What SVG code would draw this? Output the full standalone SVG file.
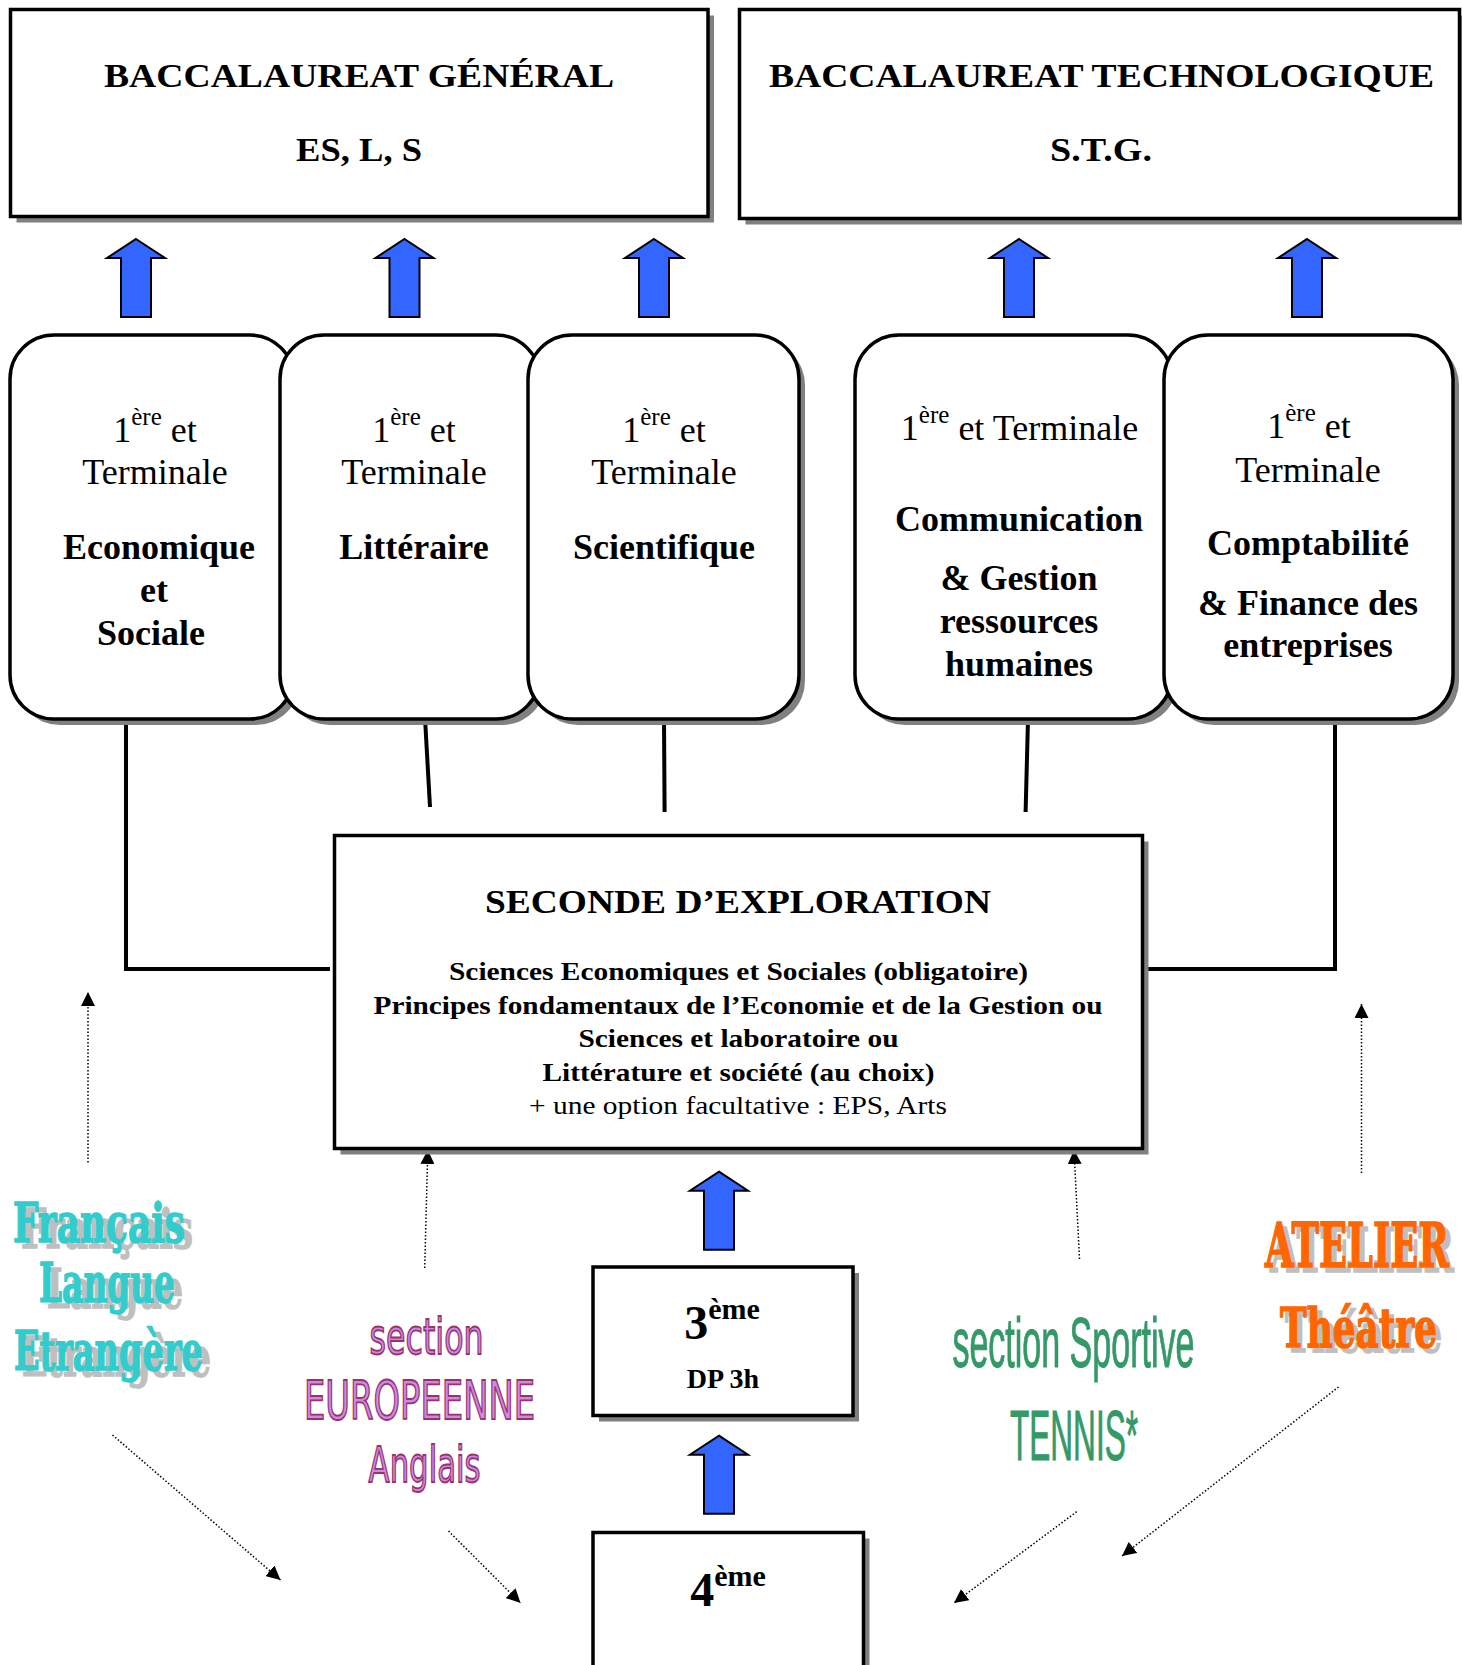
<svg xmlns="http://www.w3.org/2000/svg" width="1462" height="1665" viewBox="0 0 1462 1665">
<style>
.bg{fill:#fff}
.box{fill:#fff;stroke:#000;stroke-width:3.5}
.shd{fill:#808080}
.t{font-family:"Liberation Serif","Times New Roman",serif;fill:#000}
.b{font-weight:bold}
.arrow{fill:#3366FF;stroke:#000;stroke-width:2;stroke-linejoin:miter}
.conn{stroke:#000;stroke-width:4;fill:none}
.dot{stroke:#000;stroke-width:1.5;stroke-dasharray:1.5 2;fill:none;marker-end:url(#tri)}
.teal{font-family:"DejaVu Serif",serif;font-weight:bold;fill:#33CCCC;stroke:#33CCCC;stroke-width:1.6}
.orange{font-family:"DejaVu Serif",serif;font-weight:bold;fill:#FF6600;stroke:#FF6600;stroke-width:1.6}
.wshd{fill:#BFBFBF;stroke:#BFBFBF}
.euro{font-family:"DejaVu Sans",sans-serif;fill:#CC88EE;stroke:#993366;stroke-width:1.8}
.tennis{font-family:"Liberation Sans Narrow","Liberation Sans",sans-serif;fill:#339966;stroke:#339966;stroke-width:1}
</style>
<defs>
<path id="up" d="M0,0 L29,19 L15,19 L15,78 L-15,78 L-15,19 L-29,19 Z"/>
<marker id="tri" markerUnits="userSpaceOnUse" viewBox="0 0 14 14" markerWidth="14" markerHeight="14" refX="14" refY="7" orient="auto">
<path d="M0,0 L14,7 L0,14 Z" fill="#000"/>
</marker>
</defs>
<rect class="bg" x="0" y="0" width="1462" height="1665"/>

<g id="bac-general">
<rect class="shd" x="16.5" y="15.5" width="697.5" height="207"/>
<rect class="box" x="10.5" y="9.5" width="697.5" height="207"/>
<text class="t b" x="104" y="87" font-size="34" textLength="510" lengthAdjust="spacingAndGlyphs">BACCALAUREAT GÉNÉRAL</text>
<text class="t b" x="296" y="161" font-size="34" textLength="126" lengthAdjust="spacingAndGlyphs">ES, L, S</text>
</g>

<g id="bac-techno">
<rect class="shd" x="745.5" y="15.5" width="720" height="209"/>
<rect class="box" x="739.5" y="9.5" width="720" height="209"/>
<text class="t b" x="769" y="87" font-size="34" textLength="665" lengthAdjust="spacingAndGlyphs">BACCALAUREAT TECHNOLOGIQUE</text>
<text class="t b" x="1050" y="161" font-size="34" textLength="102" lengthAdjust="spacingAndGlyphs">S.T.G.</text>
</g>

<g id="arrows-top" class="arrow">
<use href="#up" x="136" y="239"/>
<use href="#up" x="404.5" y="239"/>
<use href="#up" x="654" y="239"/>
<use href="#up" x="1019" y="239"/>
<use href="#up" x="1307" y="239"/>
</g>

<g id="connectors">
<polyline class="conn" points="126,719 126,969 330,969"/>
<line class="conn" x1="425" y1="718" x2="430" y2="807"/>
<line class="conn" x1="664" y1="719" x2="664.6" y2="812"/>
<line class="conn" x1="1028" y1="719" x2="1025.6" y2="812"/>
<polyline class="conn" points="1146,969 1335,969 1335,719"/>
<line class="dot" x1="88" y1="1162.6" x2="88" y2="992"/>
<line class="dot" x1="424.7" y1="1268" x2="427.8" y2="1150"/>
<line class="dot" x1="1079.5" y1="1259" x2="1074" y2="1150"/>
<line class="dot" x1="1361.5" y1="1173" x2="1361.5" y2="1004"/>
<line class="dot" x1="112.5" y1="1435" x2="280.5" y2="1580"/>
<line class="dot" x1="448.5" y1="1531" x2="520.5" y2="1603"/>
<line class="dot" x1="1076.7" y1="1511.7" x2="954" y2="1603"/>
<line class="dot" x1="1338.5" y1="1387" x2="1122" y2="1556"/>
</g>

<g id="es">
<rect class="shd" x="16" y="341" width="284" height="384" rx="44"/>
<rect class="box" x="10" y="335" width="284" height="384" rx="44"/>
<text class="t" x="155" y="441.5" font-size="36" text-anchor="middle">1<tspan font-size="25" dy="-17">ère</tspan><tspan dy="17"> et</tspan></text>
<text class="t" x="155" y="483.5" font-size="36" text-anchor="middle">Terminale</text>
<text class="t b" x="159" y="558.5" font-size="36" text-anchor="middle">Economique</text>
<text class="t b" x="154" y="601.5" font-size="36" text-anchor="middle">et</text>
<text class="t b" x="151" y="645" font-size="36" text-anchor="middle">Sociale</text>
</g>

<g id="l">
<rect class="shd" x="286" y="341" width="260" height="384" rx="44"/>
<rect class="box" x="280" y="335" width="260" height="384" rx="44"/>
<text class="t" x="414" y="441.5" font-size="36" text-anchor="middle">1<tspan font-size="25" dy="-17">ère</tspan><tspan dy="17"> et</tspan></text>
<text class="t" x="414" y="483.5" font-size="36" text-anchor="middle">Terminale</text>
<text class="t b" x="414" y="559" font-size="36" text-anchor="middle">Littéraire</text>
</g>

<g id="s">
<rect class="shd" x="534" y="341" width="271" height="384" rx="44"/>
<rect class="box" x="528" y="335" width="271" height="384" rx="44"/>
<text class="t" x="664" y="441.5" font-size="36" text-anchor="middle">1<tspan font-size="25" dy="-17">ère</tspan><tspan dy="17"> et</tspan></text>
<text class="t" x="664" y="483.5" font-size="36" text-anchor="middle">Terminale</text>
<text class="t b" x="664" y="559" font-size="36" text-anchor="middle">Scientifique</text>
</g>

<g id="cgrh">
<rect class="shd" x="861" y="341" width="317" height="384" rx="44"/>
<rect class="box" x="855" y="335" width="317" height="384" rx="44"/>
<text class="t" x="1019.5" y="440" font-size="36" text-anchor="middle">1<tspan font-size="25" dy="-17">ère</tspan><tspan dy="17"> et Terminale</tspan></text>
<text class="t b" x="1019" y="531" font-size="36" text-anchor="middle">Communication</text>
<text class="t b" x="1019" y="590" font-size="36" text-anchor="middle">&amp; Gestion</text>
<text class="t b" x="1019" y="633" font-size="36" text-anchor="middle">ressources</text>
<text class="t b" x="1019" y="676" font-size="36" text-anchor="middle">humaines</text>
</g>

<g id="cfe">
<rect class="shd" x="1170" y="341" width="289" height="384" rx="44"/>
<rect class="box" x="1164" y="335" width="289" height="384" rx="44"/>
<text class="t" x="1309" y="438" font-size="36" text-anchor="middle">1<tspan font-size="25" dy="-17">ère</tspan><tspan dy="17"> et</tspan></text>
<text class="t" x="1308" y="482" font-size="36" text-anchor="middle">Terminale</text>
<text class="t b" x="1308" y="555" font-size="36" text-anchor="middle">Comptabilité</text>
<text class="t b" x="1308" y="615" font-size="36" text-anchor="middle">&amp; Finance des</text>
<text class="t b" x="1308" y="657" font-size="36" text-anchor="middle">entreprises</text>
</g>

<g id="seconde">
<rect class="shd" x="340.5" y="841.5" width="808" height="313"/>
<rect class="box" x="334.5" y="835.5" width="808" height="313"/>
<text class="t b" x="485" y="913" font-size="34" textLength="506" lengthAdjust="spacingAndGlyphs">SECONDE D’EXPLORATION</text>
<text class="t b" x="449" y="980" font-size="26" textLength="579" lengthAdjust="spacingAndGlyphs">Sciences Economiques et Sociales (obligatoire)</text>
<text class="t b" x="373.5" y="1013.5" font-size="26" textLength="729" lengthAdjust="spacingAndGlyphs">Principes fondamentaux de l’Economie et de la Gestion ou</text>
<text class="t b" x="578.5" y="1047" font-size="26" textLength="320" lengthAdjust="spacingAndGlyphs">Sciences et laboratoire ou</text>
<text class="t b" x="542.5" y="1081" font-size="26" textLength="392" lengthAdjust="spacingAndGlyphs">Littérature et société (au choix)</text>
<text class="t" x="529" y="1113.5" font-size="26" textLength="418" lengthAdjust="spacingAndGlyphs">+ une option facultative : EPS, Arts</text>
</g>

<g id="arrows-bottom" class="arrow">
<use href="#up" x="719" y="1171.7"/>
<use href="#up" x="719" y="1435.7"/>
</g>

<g id="troisieme">
<rect class="shd" x="599" y="1273" width="260" height="148.5"/>
<rect class="box" x="593" y="1267" width="260" height="148.5"/>
<text class="t b" x="722" y="1339" font-size="48" text-anchor="middle">3<tspan font-size="30" dy="-20">ème</tspan></text>
<text class="t b" x="723" y="1388" font-size="28" text-anchor="middle">DP 3h</text>
</g>

<g id="quatrieme">
<rect class="shd" x="599" y="1538.5" width="270.5" height="150"/>
<rect class="box" x="593" y="1532.5" width="270.5" height="150"/>
<text class="t b" x="728" y="1606" font-size="48" text-anchor="middle">4<tspan font-size="30" dy="-20">ème</tspan></text>
</g>

<g id="fle">
<g class="teal wshd" transform="translate(8,6)">
<text x="13" y="1242" font-size="55" textLength="172" lengthAdjust="spacingAndGlyphs">Français</text>
<text x="39" y="1302" font-size="55" textLength="136" lengthAdjust="spacingAndGlyphs">Langue</text>
<text x="14" y="1370" font-size="55" textLength="189" lengthAdjust="spacingAndGlyphs">Etrangère</text>
</g>
<g class="teal">
<text x="13" y="1242" font-size="55" textLength="172" lengthAdjust="spacingAndGlyphs">Français</text>
<text x="39" y="1302" font-size="55" textLength="136" lengthAdjust="spacingAndGlyphs">Langue</text>
<text x="14" y="1370" font-size="55" textLength="189" lengthAdjust="spacingAndGlyphs">Etrangère</text>
</g>
</g>

<g id="europeenne" class="euro">
<text x="369.6" y="1354" font-size="50" textLength="114" lengthAdjust="spacingAndGlyphs">section</text>
<text x="304" y="1419" font-size="53" textLength="231" lengthAdjust="spacingAndGlyphs">EUROPEENNE</text>
<text x="368.6" y="1482" font-size="50" textLength="112" lengthAdjust="spacingAndGlyphs">Anglais</text>
</g>

<g id="tennis" class="tennis">
<text x="952.4" y="1366.7" font-size="70" textLength="242" lengthAdjust="spacingAndGlyphs">section Sportive</text>
<text x="1010" y="1460" font-size="70" textLength="128" lengthAdjust="spacingAndGlyphs">TENNIS*</text>
</g>

<g id="theatre">
<g class="orange wshd" transform="translate(5,5)">
<text x="1265" y="1267" font-size="62" textLength="184" lengthAdjust="spacingAndGlyphs">ATELIER</text>
<text x="1280" y="1347" font-size="55" textLength="157" lengthAdjust="spacingAndGlyphs">Théâtre</text>
</g>
<g class="orange">
<text x="1265" y="1267" font-size="62" textLength="184" lengthAdjust="spacingAndGlyphs">ATELIER</text>
<text x="1280" y="1347" font-size="55" textLength="157" lengthAdjust="spacingAndGlyphs">Théâtre</text>
</g>
</g>
</svg>
